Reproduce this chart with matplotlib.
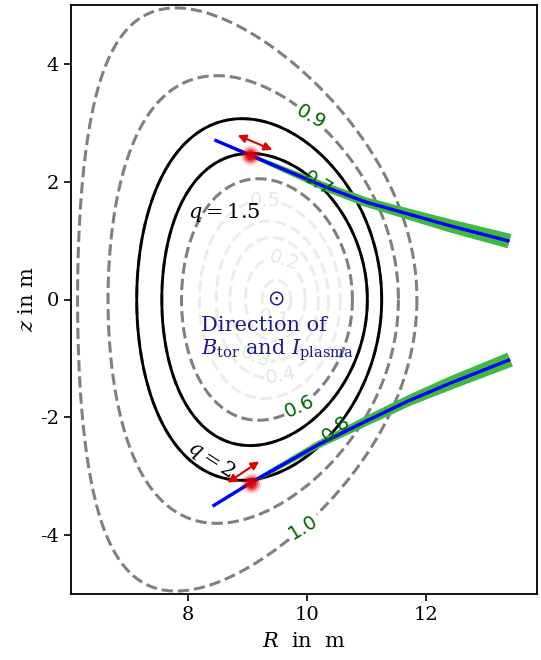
import numpy as np
import matplotlib
matplotlib.use("Agg")
import matplotlib.pyplot as plt

plt.rcParams.update({
    "font.family": "serif",
    "font.serif": ["DejaVu Serif"],
    "mathtext.fontset": "dejavuserif",
    "axes.unicode_minus": False,
    "font.size": 14,
})

# ---- flux-surface shape parameters (per normalised flux value) ----
psi_nodes = [0.0, 0.1, 0.2, 0.3, 0.4, 0.5, 0.6, 0.7, 0.8, 0.9, 1.0, 1.1]
surf_R0 = [9.50, 9.49, 9.47, 9.45, 9.42, 9.38, 9.33, 9.29, 9.20, 9.10, 9.00, 8.90]
surf_a = [0.00, 0.24, 0.50, 0.74, 0.94, 1.18, 1.43, 1.72, 2.05, 2.43, 2.84, 3.25]
surf_h = [0.00, 0.33, 0.70, 1.05, 1.33, 1.68, 2.05, 2.48, 3.07, 3.80, 4.95, 6.10]
surf_delta = [0.00, 0.02, 0.04, 0.06, 0.07, 0.08, 0.10, 0.14, 0.14, 0.25, 0.42, 0.50]

inner_levels = [0.1, 0.2, 0.3, 0.4, 0.5]
outer_levels = [0.6, 0.7, 0.8, 0.9, 1.0]
q_levels = [0.7, 0.8]
q_text = ["$q=1.5$", "$q=2$"]

inner_label_pos = [(9.45, -0.25), (9.62, 0.68), (9.12, -1.0), (9.55, -1.27), (9.30, 1.66)]
outer_label_pos = [(9.87, -1.81), (10.2, 2.03), (10.48, -2.19), (10.08, 3.13), (9.98, -3.98)]

# ---- rays ----
ray1_R = [8.45, 9.05, 9.70, 10.36, 11.00, 11.56, 12.40, 13.39]
ray1_z = [2.71, 2.45, 2.17, 1.89, 1.65, 1.49, 1.25, 0.99]
ray1_w = [0.02, 0.03, 0.05, 0.07, 0.08, 0.09, 0.11, 0.125]
ray2_R = [8.42, 9.06, 10.20, 11.00, 11.70, 12.40, 13.40]
ray2_z = [-3.51, -3.11, -2.46, -2.06, -1.72, -1.42, -1.02]
ray2_w = [0.02, 0.03, 0.06, 0.08, 0.09, 0.11, 0.125]

spot_R = [9.05, 9.06]
spot_z = [2.45, -3.11]
arrow_from = [(8.84, 2.79), (8.67, -3.11)]
arrow_to = [(9.42, 2.54), (9.20, -2.75)]

fig = plt.figure(figsize=(5.41, 6.6), dpi=100)
ax = fig.add_axes([71 / 541, 1 - 594 / 660, 466 / 541, 589 / 660])

# build curvilinear flux grid
rho = np.linspace(0.0, 1.1, 331)
th = np.linspace(0, 2 * np.pi, 481)
RHO, TH = np.meshgrid(rho, th)
R0 = np.interp(RHO, psi_nodes, surf_R0)
A = np.interp(RHO, psi_nodes, surf_a)
H = np.interp(RHO, psi_nodes, surf_h)
D = np.interp(RHO, psi_nodes, surf_delta)
RR = R0 + A * np.cos(TH + np.arcsin(D) * np.sin(TH))
ZZ = H * np.sin(TH)

cs_in = ax.contour(RR, ZZ, RHO, levels=inner_levels, colors=[(0.5, 0.5, 0.5, 0.15)],
                   linestyles="--", linewidths=2.2, zorder=2)
cs_out = ax.contour(RR, ZZ, RHO, levels=outer_levels, colors="grey",
                    linestyles="--", linewidths=2.2, zorder=2)
cs_q = ax.contour(RR, ZZ, RHO, levels=q_levels, colors="black",
                  linestyles="-", linewidths=2.0, zorder=3)

with plt.rc_context({"font.family": "DejaVu Sans"}):
    for cs, pos, alpha in ((cs_in, inner_label_pos, 0.13), (cs_out, outer_label_pos, 1.0)):
        txts = ax.clabel(cs, manual=pos, inline=True, fmt="%.1f", fontsize=14,
                         colors="darkgreen", inline_spacing=4)
        for t in txts:
            t.set_alpha(alpha)
            t.set_zorder(8)

ax.text(8.62, 1.47, q_text[0], ha="center", va="center", fontsize=15, zorder=8)
ax.text(8.40, -2.72, q_text[1], ha="center", va="center", fontsize=15, rotation=-33, zorder=8)


def beam(R, Z, W):
    R = np.asarray(R, float); Z = np.asarray(Z, float); W = np.asarray(W, float)
    s = np.r_[0, np.cumsum(np.hypot(np.diff(R), np.diff(Z)))]
    sf = np.linspace(0, s[-1], 400)
    Rf = np.interp(sf, s, R); Zf = np.interp(sf, s, Z); Wf = np.interp(sf, s, W)
    dR = np.gradient(Rf); dZ = np.gradient(Zf)
    n = np.hypot(dR, dZ)
    nx, nz = -dZ / n, dR / n
    ax.fill(np.r_[Rf + Wf * nx, (Rf - Wf * nx)[::-1]],
            np.r_[Zf + Wf * nz, (Zf - Wf * nz)[::-1]],
            color="#3fb93f", lw=0, zorder=4)
    ax.plot(R, Z, color="blue", lw=2.4, zorder=5, solid_capstyle="butt")


beam(ray1_R, ray1_z, ray1_w)
beam(ray2_R, ray2_z, ray2_w)

for (x0, y0), (x1, y1) in zip(arrow_from, arrow_to):
    ax.annotate("", xy=(x1, y1), xytext=(x0, y0),
                arrowprops=dict(arrowstyle="<|-|>", color="#dd0000", lw=1.5,
                                mutation_scale=12, shrinkA=0, shrinkB=0), zorder=7)

for s, a in ((230, 0.12), (150, 0.25), (90, 0.5), (45, 0.75)):
    ax.scatter(spot_R, spot_z, s=s, color="#e00000", alpha=a, lw=0, zorder=6)

navy = "#1a1a8c"
ax.text(9.48, 0.0, "\u2299", color=navy, fontsize=15, ha="center", va="center",
        family="DejaVu Sans", zorder=8)
ax.text(8.23, -0.54, "Direction of", color=navy, fontsize=15, ha="left", va="baseline", zorder=8)
ax.text(8.23, -0.94, r"$B_{\mathrm{tor}}$ and $I_{\mathrm{plasma}}$", color=navy,
        fontsize=15, ha="left", va="baseline", zorder=8)

ax.set_xlim(6.05, 13.85)
ax.set_ylim(-5, 5)
ax.set_xticks([8, 10, 12])
ax.set_yticks([-4, -2, 0, 2, 4])
ax.tick_params(direction="out", length=5, width=1.2, labelsize=14)
for sp in ax.spines.values():
    sp.set_linewidth(1.3)
ax.set_xlabel("$R$  in  m", fontsize=15, labelpad=6)
ax.set_ylabel("$z$ in m", fontsize=15, labelpad=2)

fig.savefig("out.png", dpi=100)
